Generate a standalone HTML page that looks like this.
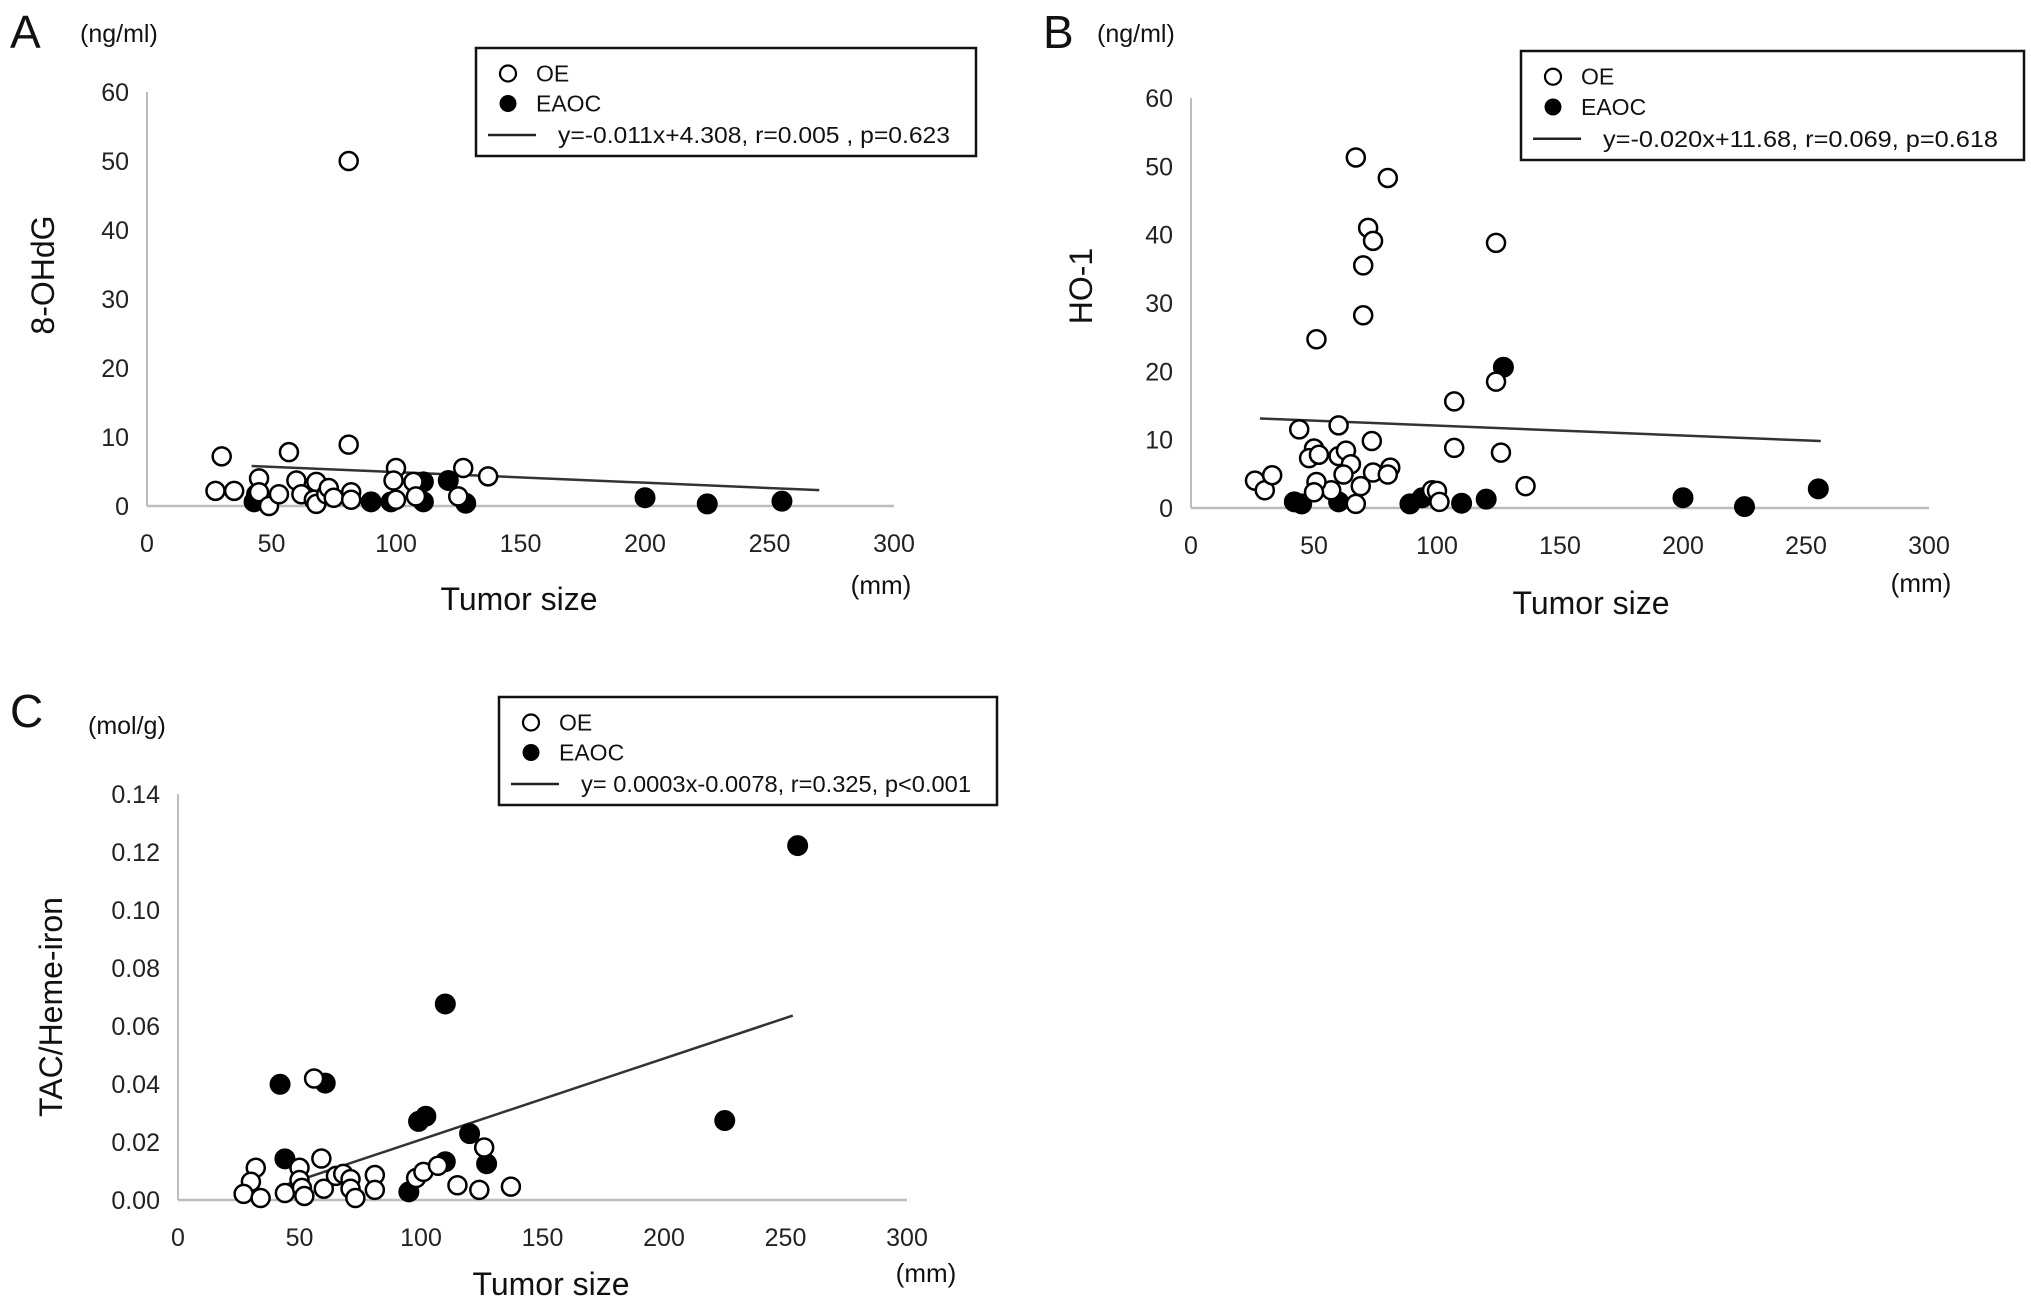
<!DOCTYPE html>
<html><head><meta charset="utf-8"><style>
html,body{margin:0;padding:0;background:#fff}
svg{display:block;font-family:"Liberation Sans",Arial,sans-serif}
</style></head><body>
<svg id="fig" width="2031" height="1309" viewBox="0 0 2031 1309"></svg>
<script>
// Panel A data (8-OHdG vs tumor size)
const aOpenX=[30,57,81,81,27.5,35,45,45,49,53,60,62,67,68,68,72,73,75,82,82,100,99,100,107,108,125,127,137];
const aOpenY=[7.2,7.8,8.9,50,2.2,2.2,4,2,0,1.7,3.7,1.7,0.9,3.5,0.3,1.7,2.6,1.2,2,0.9,5.5,3.7,0.9,3.5,1.4,1.4,5.5,4.3];
const aFillX=[43,44,90,98,111,111,121,128,200,225,255];
const aFillY=[0.6,1.7,0.6,0.6,3.5,0.6,3.7,0.4,1.2,0.3,0.7];
const aLineX=[42,270];
const aLineY=[5.8,2.3];
const aYTicks=[0,10,20,30,40,50,60];
// Panel B data (HO-1)
const bOpenX=[67,80,72,74,70,70,51,124,124,107,44,60,73.5,107,126,50,48,52,60,63,65,62,74,81,80,69,57,51,50,26,30,33,67,98,100,101,136];
const bOpenY=[51.3,48.3,41,39.1,35.5,28.2,24.7,38.8,18.5,15.6,11.5,12.1,9.8,8.8,8.1,8.7,7.3,7.8,7.6,8.4,6.4,4.9,5.2,5.9,4.9,3.2,2.6,3.8,2.3,4,2.6,4.8,0.6,2.6,2.5,0.9,3.2];
const bFillX=[42,45,60,89,94,110,120,127,200,225,255];
const bFillY=[0.9,0.6,0.9,0.6,1.5,0.7,1.3,20.6,1.5,0.2,2.8];
const bLineX=[28,256];
const bLineY=[13.1,9.8];
const bYTicks=[0,10,20,30,40,50,60];
// Panel C data (TAC/Heme-iron)
const cOpenX=[56,126,59,32,30,27,34,44,50,50,51,52,60,65,68,71,71,73,81,81,98,101,107,115,124,137];
const cOpenY=[0.0419,0.0181,0.0143,0.0111,0.0063,0.0021,0.0007,0.0024,0.0111,0.0069,0.0042,0.0014,0.0039,0.0083,0.009,0.0072,0.0039,0.0007,0.0086,0.0035,0.0076,0.0097,0.0118,0.0051,0.0035,0.0046];
const cFillX=[255,110,42,60.6,99,102,120,225,44,110,127,95];
const cFillY=[0.1222,0.0676,0.0399,0.0403,0.0271,0.0289,0.0229,0.0274,0.0142,0.0132,0.0125,0.0028];
const cLineX=[43,253];
const cLineY=[0.0049,0.0636];
const cYTicks=["0.00","0.02","0.04","0.06","0.08","0.10","0.12","0.14"];
const xTicks=[0,50,100,150,200,250,300];

const NS="http://www.w3.org/2000/svg";
const svg=document.getElementById('fig');
function mk(tag,attrs,parent,text){const e=document.createElementNS(NS,tag);for(const k in attrs)e.setAttribute(k,attrs[k]);if(text!==undefined)e.textContent=text;(parent||svg).appendChild(e);return e;}

function panel(p){
  const g=mk('g',{});
  
  
  const ymax=p.ymax;
  const sx=v=>p.x0+(p.x1-p.x0)*v/300;
  const sy=v=>p.y0-(p.y0-p.y1)*v/ymax;
  let t=mk('text',{x:p.lx,y:p.ly,'font-size':46,fill:'#111'},g,p.id);
  
  t=mk('text',{x:p.ux,y:p.uy,'font-size':25,fill:'#111'},g,p.unit);
  
  let l=mk('line',{x1:p.x0,y1:p.y1,x2:p.x0,y2:p.y0,stroke:'#bdbdbd','stroke-width':2},g);
  
  l=mk('line',{x1:p.x0,y1:p.y0,x2:p.x1,y2:p.y0,stroke:'#bdbdbd','stroke-width':2.5},g);
  
  p.yt.forEach((v,i)=>{
    const e=mk('text',{x:p.x0-18,y:sy(parseFloat(v))+9,'font-size':25,'text-anchor':'end',fill:'#222'},g,v);
    
  });
  xTicks.forEach(v=>{
    const e=mk('text',{x:sx(v),y:p.y0+46,'font-size':25,'text-anchor':'middle',fill:'#222'},g,v);
    
  });
  t=mk('text',{x:p.tx,y:p.ty,'font-size':32,'text-anchor':'middle',fill:'#111'},g,'Tumor size');
  
  t=mk('text',{x:p.mx,y:p.my,'font-size':26,'text-anchor':'middle',fill:'#111'},g,'(mm)');
  
  t=mk('text',{x:0,y:0,'font-size':32,'text-anchor':'middle',fill:'#111',transform:`translate(${p.ytx},${p.yty}) rotate(-90)`},g,p.ytitle);
  
  l=mk('line',{x1:sx(p.lineX[0]),y1:sy(p.lineY[0]),x2:sx(p.lineX[1]),y2:sy(p.lineY[1]),stroke:'#333','stroke-width':2.5},g);
  
  p.fx.forEach((v,i)=>{
    const c=mk('circle',{cx:sx(v),cy:sy(p.fy[i]),r:9.5,fill:'#000',stroke:'#000','stroke-width':2},g);
    
  });
  p.ox.forEach((v,i)=>{
    const c=mk('circle',{cx:sx(v),cy:sy(p.oy[i]),r:9,fill:'#fff',stroke:'#000','stroke-width':2.5},g);
    
  });
  const L=p.leg;
  const lg=mk('g',{},g);
  
  mk('rect',{x:L.x,y:L.y,width:L.w,height:L.h,fill:'#fff',stroke:'#111','stroke-width':2.5},lg);
  const rh=L.h/3.6;
  const cy1=L.y+rh*0.85, cy2=cy1+rh*1.0, cy3=cy2+rh*1.05;
  let c=mk('circle',{cx:L.x+32,cy:cy1,r:8,fill:'#fff',stroke:'#000','stroke-width':2.2},lg);
  
  t=mk('text',{x:L.x+60,y:cy1+8,'font-size':23,fill:'#111'},lg,'OE');
  
  c=mk('circle',{cx:L.x+32,cy:cy2,r:8.5,fill:'#000'},lg);
  
  t=mk('text',{x:L.x+60,y:cy2+8,'font-size':23,fill:'#111'},lg,'EAOC');
  
  l=mk('line',{x1:L.x+12,y1:cy3,x2:L.x+60,y2:cy3,stroke:'#222','stroke-width':2.5},lg);
  
  t=mk('text',{x:L.x+82,y:cy3+8,'font-size':23,fill:'#111',textLength:L.w-108,lengthAdjust:'spacingAndGlyphs'},lg,p.eq);
  
}

panel({id:'A',x0:147,x1:894,y0:506,y1:92,ymax:60,yt:aYTicks,lx:10,ly:48,ux:80,uy:42,unit:'(ng/ml)',
  tx:519,ty:610,mx:881,my:594,ytitle:'8-OHdG',ytx:54,yty:275,lineX:aLineX,lineY:aLineY,
  ox:aOpenX,oy:aOpenY,fx:aFillX,fy:aFillY,leg:{x:476,y:48,w:500,h:108},eq:'y=-0.011x+4.308, r=0.005 , p=0.623'});
panel({id:'B',x0:1191,x1:1929,y0:508,y1:98,ymax:60,yt:bYTicks,lx:1043,ly:48,ux:1097,uy:42,unit:'(ng/ml)',
  tx:1591,ty:614,mx:1921,my:592,ytitle:'HO-1',ytx:1092,yty:286,lineX:bLineX,lineY:bLineY,
  ox:bOpenX,oy:bOpenY,fx:bFillX,fy:bFillY,leg:{x:1521,y:51,w:503,h:109},eq:'y=-0.020x+11.68, r=0.069, p=0.618'});
panel({id:'C',x0:178,x1:907,y0:1200,y1:794,ymax:0.14,yt:cYTicks,lx:10,ly:727,ux:88,uy:734,unit:'(mol/g)',
  tx:551,ty:1295,mx:926,my:1282,ytitle:'TAC/Heme-iron',ytx:62,yty:1007,lineX:cLineX,lineY:cLineY,
  ox:cOpenX,oy:cOpenY,fx:cFillX,fy:cFillY,leg:{x:499,y:697,w:498,h:108},eq:'y= 0.0003x-0.0078, r=0.325, p<0.001'});
</script>
</body></html>
